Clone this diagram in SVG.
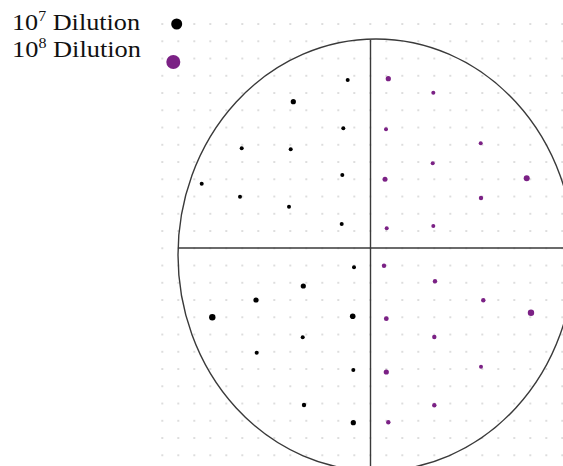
<svg xmlns="http://www.w3.org/2000/svg" width="563" height="466" viewBox="0 0 563 466">
<defs>
<style>
.lbl{font-family:"Liberation Serif","Times New Roman",serif;font-size:23px;fill:#111}
.k{fill:#000}
.p{fill:#7b2185}
.ln{stroke:#3a3a3a;stroke-width:1.4;fill:none}
</style>
<pattern id="grid" patternUnits="userSpaceOnUse" x="154.3" y="15.4" width="16" height="17.25">
<circle cx="8" cy="8.6" r="1" fill="#d2d2d2"/>
</pattern>
</defs>
<rect width="563" height="466" fill="#fff"/>
<rect x="154" y="15" width="409" height="449" fill="url(#grid)"/>
<g id="legend">
<text class="lbl" x="12" y="30" textLength="128" lengthAdjust="spacingAndGlyphs">10<tspan dy="-9" font-size="14">7</tspan><tspan dy="9"> Dilution</tspan></text>
<circle class="k" cx="176.7" cy="24" r="5.5"/>
<text class="lbl" x="12" y="57" textLength="129" lengthAdjust="spacingAndGlyphs">10<tspan dy="-9" font-size="14">8</tspan><tspan dy="9"> Dilution</tspan></text>
<circle class="p" cx="173.3" cy="62" r="7"/>
</g>
<g id="dish">
<ellipse class="ln" cx="376" cy="255" rx="198" ry="216"/>
<line class="ln" x1="370.5" y1="40" x2="370.5" y2="466"/>
<line class="ln" x1="178" y1="248" x2="563" y2="248"/>
</g>
<g id="colonies-10e7" class="k">
<circle cx="347.7" cy="80" r="2"/>
<circle cx="293.3" cy="101.7" r="2.6"/>
<circle cx="343.3" cy="128.3" r="2"/>
<circle cx="241.7" cy="148.3" r="2"/>
<circle cx="290.7" cy="149.3" r="2"/>
<circle cx="342.3" cy="175" r="2"/>
<circle cx="201.7" cy="183.7" r="2"/>
<circle cx="240" cy="196.7" r="2"/>
<circle cx="289" cy="206.7" r="2"/>
<circle cx="341.7" cy="224" r="2"/>
<circle cx="354" cy="267.3" r="2"/>
<circle cx="303.3" cy="286" r="2.6"/>
<circle cx="256" cy="300" r="2.6"/>
<circle cx="212.3" cy="317.3" r="3.2"/>
<circle cx="352.7" cy="316.3" r="2.8"/>
<circle cx="302.7" cy="337.3" r="2"/>
<circle cx="256.7" cy="352.7" r="2"/>
<circle cx="353.3" cy="370" r="2"/>
<circle cx="304" cy="405" r="2.2"/>
<circle cx="353.3" cy="422.7" r="2.6"/>
</g>
<g id="colonies-10e8" class="p">
<circle cx="388.3" cy="78.7" r="2.6"/>
<circle cx="433.3" cy="92.7" r="2"/>
<circle cx="386" cy="129.3" r="2"/>
<circle cx="480.7" cy="143.3" r="2"/>
<circle cx="432.7" cy="163.3" r="2"/>
<circle cx="385" cy="179.3" r="2.5"/>
<circle cx="526.7" cy="178.3" r="3"/>
<circle cx="481" cy="198" r="2.2"/>
<circle cx="386.7" cy="228.3" r="2"/>
<circle cx="433.3" cy="226" r="2"/>
<circle cx="384" cy="265.7" r="2.2"/>
<circle cx="435" cy="281.3" r="2.2"/>
<circle cx="483.3" cy="300.3" r="2.2"/>
<circle cx="531" cy="312.7" r="3.2"/>
<circle cx="386.3" cy="318.7" r="2.4"/>
<circle cx="434.3" cy="337" r="2.2"/>
<circle cx="386.3" cy="372" r="2.6"/>
<circle cx="481" cy="366.7" r="2"/>
<circle cx="434.3" cy="405.3" r="2.2"/>
<circle cx="388.3" cy="422.3" r="2.2"/>
</g>
</svg>
